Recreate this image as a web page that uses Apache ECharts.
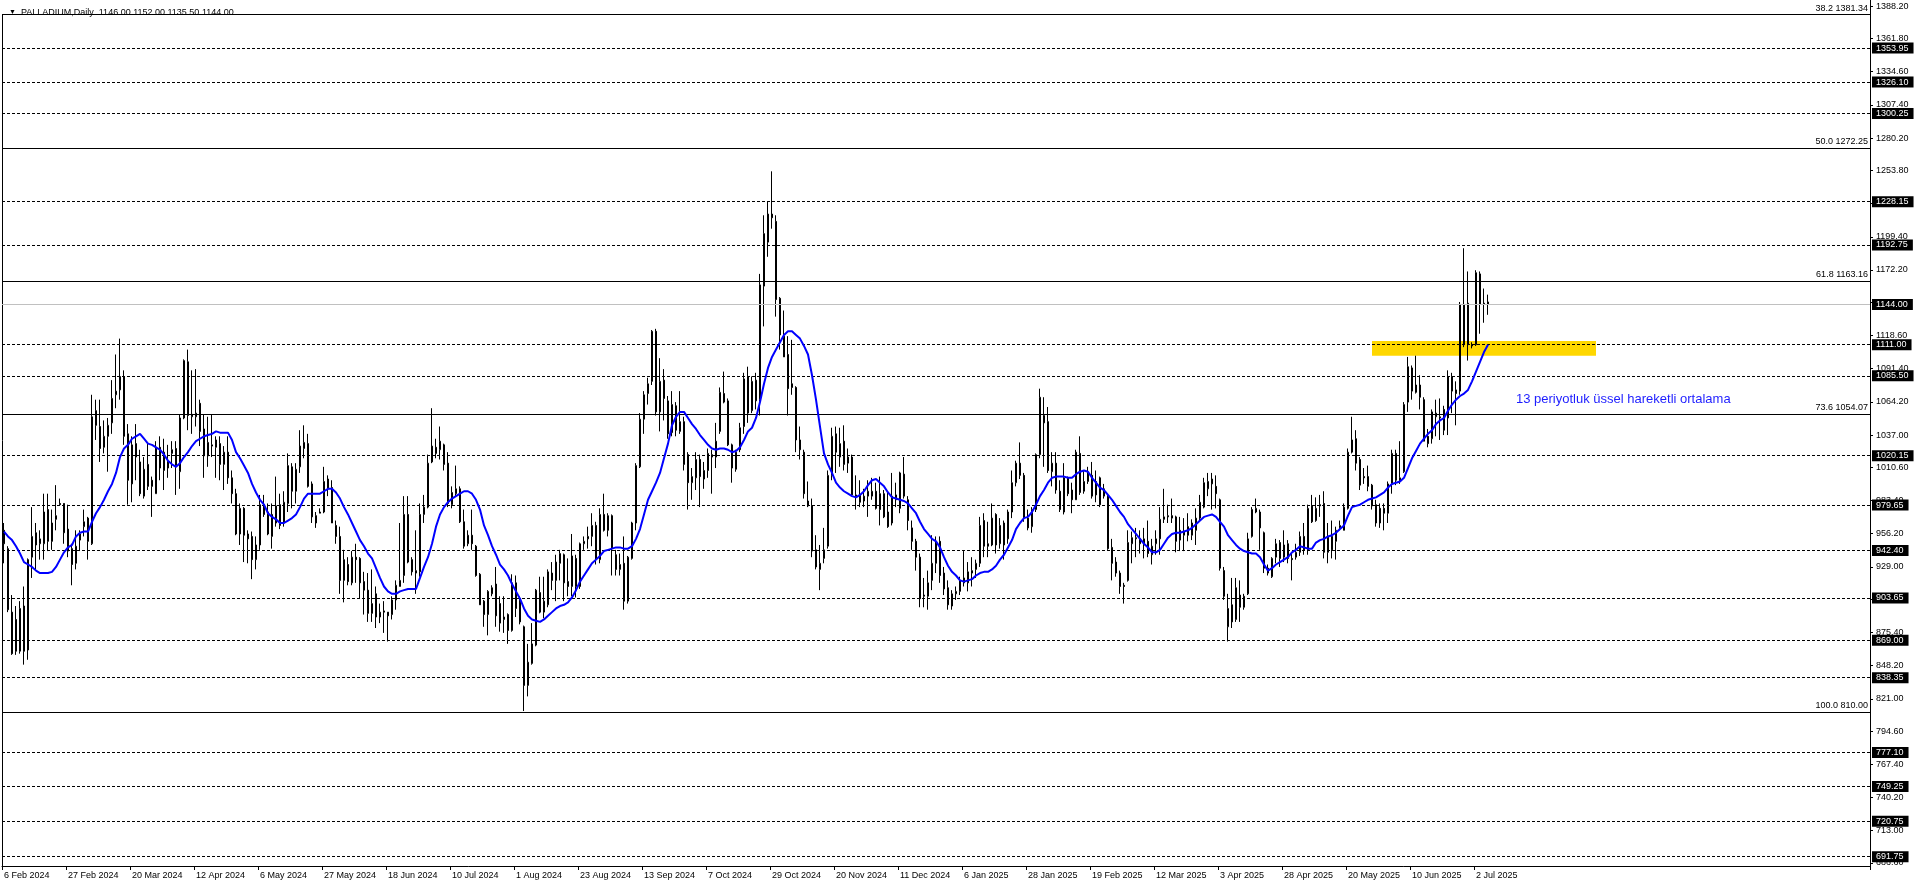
<!DOCTYPE html>
<html><head><meta charset="utf-8">
<script src="https://cdn.jsdelivr.net/npm/echarts@6/dist/echarts.min.js"></script>
<style>html,body{margin:0;padding:0;background:#fff}#c{width:1916px;height:888px}</style>
</head><body><div id="c"></div>
<script>
const symbolName = 'PALLADIUM,Daily';
const tickDates = ['6 Feb 2024','27 Feb 2024','20 Mar 2024','12 Apr 2024','6 May 2024','27 May 2024','18 Jun 2024','10 Jul 2024','1 Aug 2024','23 Aug 2024','13 Sep 2024','7 Oct 2024','29 Oct 2024','20 Nov 2024','11 Dec 2024','6 Jan 2025','28 Jan 2025','19 Feb 2025','12 Mar 2025','3 Apr 2025','28 Apr 2025','20 May 2025','10 Jun 2025','2 Jul 2025'];

const opens = [959,944,892,886,860,897,861,937,957,948,
948,976,965,968,981,981,960,944,932,951,
962,969,948,1057,1044,1027,1036,1047,1070,1074,
1085,1038,997,1030,1015,987,1013,1000,989,1027,
1008,1010,1022,1026,1007,1051,1097,1052,1052,1063,
1042,1020,1028,1027,1030,1013,1023,1002,989,956,
977,956,954,935,947,980,974,954,965,980,
965,981,1011,991,1011,1026,1030,997,971,973,
974,1001,994,963,954,918,931,916,937,936,
917,910,891,907,888,893,892,890,902,913,
922,972,935,924,925,972,978,1015,1027,1025,
1029,1014,980,989,993,966,948,955,946,923,
901,890,907,915,899,886,890,877,916,903,
880,832,850,865,908,892,898,924,918,932,
939,917,913,936,913,948,952,954,963,935,
972,959,971,939,927,932,901,936,965,1011,
1050,1071,1081,1122,1056,1082,1065,1039,1061,1040,
1048,1021,998,1002,1017,1001,1008,1019,1019,1040,
1071,1065,1029,1009,1025,1044,1085,1057,1065,1066,
1159,1195,1218,1212,1149,1118,1103,1079,1076,1033,
1023,983,979,943,927,936,946,1004,1038,1019,
1032,1014,1019,987,988,983,987,987,991,989,
989,974,965,988,977,1005,984,961,950,937,
905,905,918,932,950,924,912,897,907,909,
920,916,924,927,932,967,948,947,972,948,
965,952,974,998,1014,1004,969,962,976,1021,
1053,1048,1007,1014,991,974,1002,992,984,1022,
991,999,1004,999,1002,987,987,945,933,924,
914,918,948,952,952,947,950,939,948,952,
968,970,971,970,959,955,962,955,959,969,
978,993,997,995,984,926,880,898,886,906,
896,907,954,974,974,957,928,921,937,949,
937,948,936,937,941,954,943,979,967,980,
981,941,954,950,961,959,977,1023,1034,1017,
1003,1003,996,980,977,977,973,997,1022,1000,
1007,1064,1092,1072,1078,1066,1036,1034,1052,1051,
1058,1051,1085,1074,1073,1144,1145,1111,1111,1169,
1145,1146];

const closes = [948,894,858,860,895,860,935,954,947,952,
974,950,950,971,980,957,942,931,946,956,
966,950,1052,1045,1026,1036,1045,1067,1073,1085,
1036,1000,1029,1019,989,1009,995,995,1027,1010,
1023,1015,1025,1011,1051,1098,1053,1054,1055,1040,
1020,1031,1029,1033,1013,1023,1002,989,956,977,
955,952,935,947,980,972,956,972,979,963,
982,1012,991,1009,1028,1031,995,970,965,974,
999,993,965,954,918,935,917,937,935,916,
910,891,899,888,892,892,889,902,914,918,
972,933,925,926,972,978,1014,1028,1022,1032,
1013,981,990,993,966,946,955,948,922,898,
890,909,912,889,883,888,877,916,895,884,
832,851,866,910,892,901,925,918,933,940,
916,913,938,913,948,950,954,963,935,972,
959,971,944,927,931,901,937,965,1012,1050,
1070,1079,1122,1056,1081,1067,1038,1062,1041,1048,
1013,998,1003,1017,1003,1008,1022,1021,1032,1072,
1064,1029,1010,1023,1043,1083,1055,1081,1082,1160,
1202,1218,1215,1148,1119,1101,1075,1076,1033,1025,
989,979,942,929,932,943,1004,1036,1023,1030,
1013,1019,988,988,982,987,991,991,977,976,
970,962,987,984,1006,987,967,950,937,903,
906,916,932,950,922,911,898,907,909,918,
916,925,926,932,963,946,946,969,947,963,
947,974,998,1014,1004,969,961,976,1021,1068,
1047,1008,1014,992,976,1002,989,984,1023,990,
999,1006,987,988,980,993,944,932,924,913,
913,949,953,953,948,952,940,946,952,968,
970,971,969,950,951,958,955,965,969,982,
998,999,1001,989,928,905,895,884,912,896,
905,952,976,977,961,928,924,936,948,936,
947,936,935,941,954,943,977,966,977,979,
941,954,943,959,963,978,1023,1033,1014,996,
1002,995,979,965,965,973,997,1022,1000,1002,
1062,1093,1073,1078,1068,1032,1030,1056,1055,1052,
1041,1085,1073,1071,1144,1111,1111,1110,1170,1144,
1144,1144];

const lows = [932,892,857,857,858,849,853,920,927,935,
935,942,943,959,980,948,937,914,927,942,
954,935,947,1033,1015,1022,1007,1038,1059,1066,
1029,980,982,1000,987,985,992,970,989,1000,
992,1002,1010,988,993,1050,1041,1038,1044,1028,
1002,1011,1019,1002,1000,992,997,981,955,947,
933,932,919,927,943,970,955,944,962,960,
962,974,977,981,1006,1018,994,965,961,973,
973,987,965,948,907,900,914,914,916,903,
890,884,884,879,883,875,868,886,894,913,
916,932,922,907,921,965,977,1014,1018,1017,
1008,978,977,987,965,944,946,943,921,898,
880,873,905,880,876,875,866,876,888,882,
811,823,849,864,891,887,896,910,901,918,
901,905,905,904,911,943,944,946,931,932,
958,954,922,922,922,894,899,935,959,1010,
1038,1062,1078,1053,1040,1049,1034,1036,1036,1038,
1008,976,984,992,978,993,1002,989,1010,1038,
1063,1028,998,1007,1023,1038,1047,1055,1058,1053,
1126,1183,1206,1134,1107,1101,1053,1070,1023,1017,
985,978,937,927,910,932,944,1000,1006,1011,
1008,1006,987,976,978,978,970,984,976,963,
969,961,963,978,973,985,959,943,926,896,
896,894,910,924,916,906,894,894,902,906,
913,909,913,920,929,937,937,946,940,944,
935,948,969,995,1001,966,959,957,974,1018,
1011,1006,995,989,974,972,987,973,984,988,
989,997,985,982,978,985,943,918,921,907,
899,917,932,937,940,936,937,931,939,939,
965,965,965,941,942,942,950,951,947,966,
977,987,976,977,926,902,868,879,884,884,
894,906,953,973,943,924,922,920,932,929,
933,932,918,935,938,939,939,965,966,970,
936,932,936,935,959,959,976,1022,1008,992,
997,991,976,962,961,959,965,989,996,997,
1006,1056,1066,1071,1058,1032,1027,1030,1036,1033,
1037,1037,1055,1045,1070,1109,1098,1108,1110,1120,
1129,1135.5];

const highs = [965,946,906,897,901,913,936,978,965,959,
989,989,976,996,985,981,980,948,959,959,
976,970,1070,1066,1066,1049,1051,1082,1103,1116,
1090,1046,1036,1046,1025,1019,1030,1003,1032,1036,
1034,1029,1032,1032,1054,1099,1107,1090,1091,1066,
1054,1052,1054,1036,1036,1028,1036,1008,993,981,
978,959,958,954,988,988,981,981,1003,989,
991,1022,1014,1014,1041,1045,1038,999,974,977,
1011,1004,1000,967,962,943,937,942,948,937,
925,924,927,913,899,901,892,905,918,965,
987,987,937,959,981,988,1021,1059,1034,1044,
1030,1023,995,1012,995,976,959,976,947,924,
902,910,914,929,905,905,891,923,922,905,
881,866,883,911,921,921,927,933,939,943,
940,936,956,939,949,954,962,973,966,977,
989,973,972,943,940,954,938,966,1014,1055,
1073,1084,1123,1124,1100,1091,1069,1073,1064,1073,
1052,1023,1010,1023,1021,1015,1026,1025,1047,1076,
1089,1067,1030,1025,1047,1088,1093,1085,1088,1169,
1217,1228,1253,1217,1150,1139,1118,1115,1077,1044,
1025,999,985,955,947,961,1008,1043,1044,1043,
1045,1026,1021,1004,1000,993,1000,1002,998,1003,
992,991,1006,998,1007,1019,987,967,952,940,
920,926,955,954,954,929,918,910,913,921,
942,933,937,935,970,973,966,981,973,969,
967,976,1008,1016,1031,1006,976,978,1022,1075,
1068,1060,1023,1023,1000,1014,1003,998,1025,1036,
1008,1011,1015,1008,1003,997,989,952,937,926,
916,959,958,961,959,961,967,952,959,978,
993,980,985,971,970,969,973,968,977,988,
1002,1006,1006,1004,985,929,907,920,920,918,
907,957,978,985,976,958,931,937,952,951,
959,951,940,948,958,965,980,988,986,988,
991,965,967,962,967,981,1026,1052,1041,1019,
1010,1012,997,984,981,981,999,1025,1025,1032,
1064,1101,1094,1102,1086,1068,1042,1058,1066,1067,
1061,1090,1088,1081,1146,1190,1171,1113,1172,1171,
1157,1152];

const ema13 = [958,954,951,946,940,933,931,929,926,924,
924,924,925,929,935,941,945,947,954,957,
958,958,966,973,978,984,991,997,1006,1019,
1026,1029,1034,1036,1038,1034,1030,1029,1027,1025,
1021,1016,1013,1011,1014,1019,1023,1028,1032,1034,
1036,1037,1038,1040,1039,1039,1039,1033,1023,1018,
1012,1006,997,990,984,980,973,970,968,965,
965,967,969,972,978,985,989,989,989,989,
991,993,993,990,985,978,972,965,958,951,
946,940,936,928,920,913,909,907,907,909,
910,911,911,911,920,929,937,948,962,972,
978,982,985,987,989,991,991,989,984,976,
963,955,946,939,931,927,922,915,909,903,
895,889,886,885,884,886,889,892,895,897,
898,900,904,910,917,922,927,932,935,938,
942,943,944,945,945,944,944,946,952,960,
972,984,991,998,1006,1018,1030,1045,1052,1056,
1056,1051,1046,1042,1037,1033,1029,1026,1025,1026,
1026,1025,1023,1024,1027,1033,1040,1043,1051,1064,
1079,1092,1101,1107,1113,1119,1122,1122,1119,1116,
1110,1103,1086,1066,1044,1022,1013,1006,998,994,
991,989,987,986,988,991,996,1000,1001,998,
995,990,986,985,984,983,981,977,973,966,
960,956,952,950,945,937,930,925,922,918,
917,918,919,922,924,925,925,927,930,935,
939,945,951,960,965,969,970,974,980,987,
992,998,1002,1003,1003,1003,1002,1002,1005,1007,
1008,1007,1002,998,994,992,988,984,979,974,
970,964,960,956,952,948,945,941,941,943,
948,953,956,957,957,958,959,961,964,967,
970,971,972,970,966,962,955,951,947,944,
942,941,940,940,937,931,926,928,931,933,
935,937,941,943,946,945,944,944,949,951,
952,954,955,957,960,963,971,978,979,980,
982,984,985,986,988,990,994,997,998,999,
1002,1010,1018,1024,1030,1034,1038,1041,1046,1049,
1051,1057,1062,1066,1069,1071,1074,1081,1089,1097,
1105,1111];

const priceTicks = [686.60,713.00,740.20,767.40,794.60,821.00,848.20,875.40,902.60,929.00,956.20,983.40,1010.60,1037.00,1064.20,1091.40,1118.60,1145.80,1172.20,1199.40,1226.60,1253.80,1280.20,1307.40,1334.60,1361.80,1388.20];
const levelPrices = [1353.95,1326.10,1300.25,1228.15,1192.75,1111.00,1085.50,1020.15,979.65,942.40,903.65,869.00,838.35,777.10,749.25,720.75,691.75];
const currentPrice = 1144.00;
const fibPercents = ['38.2','50.0','61.8','73.6','100.0'];
const fibPrices = [1381.34,1272.25,1163.16,1054.07,810.00];
const zonePrices = [1114, 1102];
const emaNote = '13 periyotluk üssel hareketli ortalama';

const MONTHS=['Jan','Feb','Mar','Apr','May','Jun','Jul','Aug','Sep','Oct','Nov','Dec'];
const DAY=86400000;
function parseD(s){const p=s.split(' ');return Date.UTC(+p[2],MONTHS.indexOf(p[1]),+p[0]);}
function fmt(t){const d=new Date(t);return d.getUTCDate()+' '+MONTHS[d.getUTCMonth()]+' '+d.getUTCFullYear();}
function isWd(t){const w=new Date(t).getUTCDay();return w!==0&&w!==6;}
const nBars = closes.length;
const TOTAL_SLOTS = 467;
const categories=[];
for(let k=0;k<tickDates.length;k++){
  let t=parseD(tickDates[k]); let n=0;
  while(n<16 && categories.length<nBars){ if(isWd(t)){categories.push(fmt(t));n++;} t+=DAY; }
}
{ let t=parseD(categories[categories.length-1])+DAY;
  while(categories.length<TOTAL_SLOTS){ if(isWd(t)) categories.push(fmt(t)); t+=DAY; } }

const candleData = closes.map((c,i)=>[opens[i],c,lows[i],highs[i]]);
const FONT = "'Liberation Sans',Arial,sans-serif";
const FS = 9;
const last = nBars-1;
const titleText = '{t|▼}  ' + symbolName + '  ' + [opens[last],highs[last],lows[last],closes[last]].map(v=>v.toFixed(2)).join(' ');
const showTick = (i)=>i%16===0&&i<nBars;

const boxLabel = (txt)=>({show:true,position:'end',distance:2,formatter:txt,color:'#fff',backgroundColor:'#000',
  fontSize:FS,fontFamily:FONT,lineHeight:10,padding:[1,5,0,4]});
const markLines = [];
levelPrices.forEach(v=>markLines.push({yAxis:v,lineStyle:{color:'#000',width:1,type:[3,2]},label:boxLabel(v.toFixed(2))}));
markLines.push({yAxis:currentPrice,lineStyle:{color:'#c0c0c0',width:1,type:'solid'},label:boxLabel(currentPrice.toFixed(2))});
fibPrices.forEach((v,i)=>markLines.push({yAxis:v,lineStyle:{color:'#000',width:1,type:'solid'},
  label:{show:true,position:'insideEndTop',distance:2,formatter:fibPercents[i]+' '+v.toFixed(2),color:'#000',
  fontSize:FS,fontFamily:FONT}}));

const chart = echarts.init(document.getElementById('c'),null,{renderer:'canvas'});
chart.setOption({
  animation:false,
  backgroundColor:'#fff',
  title:{text:titleText,left:4,top:3,textStyle:{fontSize:FS,fontWeight:'normal',color:'#000',fontFamily:FONT,
    rich:{t:{fontSize:7,color:'#000'}}}},
  grid:{left:2,right:46,top:0,bottom:22,containLabel:false},
  xAxis:{type:'category',data:categories,boundaryGap:true,
    axisLine:{show:true,lineStyle:{color:'#000',width:1}},
    axisTick:{show:true,length:4,interval:showTick,lineStyle:{color:'#000'}},
    axisLabel:{show:true,interval:showTick,align:'left',margin:5,fontSize:FS,color:'#000',fontFamily:FONT,
      formatter:(v,i)=>i<nBars?v:''},
    splitLine:{show:false}},
  yAxis:{type:'value',position:'right',min:684.1,max:1393.3,scale:true,
    axisLine:{show:true,lineStyle:{color:'#000',width:1}},
    axisTick:{show:true,length:3,customValues:priceTicks,lineStyle:{color:'#000'}},
    axisLabel:{show:true,customValues:priceTicks,formatter:(v)=>(+v).toFixed(2),margin:6,fontSize:FS,color:'#000',fontFamily:FONT,showMinLabel:true,showMaxLabel:true},
    splitLine:{show:false}},
  graphic:[{type:'line',shape:{x1:2.5,y1:15,x2:2.5,y2:866},style:{stroke:'#000',lineWidth:1},silent:true}],
  series:[
    {type:'candlestick',data:candleData,barWidth:2,
     itemStyle:{color:'#fff',color0:'#000',borderColor:'#000',borderColor0:'#000',borderWidth:1},
     markLine:{silent:true,symbol:['none','none'],animation:false,data:markLines},
     markArea:{silent:true,itemStyle:{color:'#ffd700',opacity:1},
       data:[[{xAxis:categories[342],yAxis:zonePrices[0]},{xAxis:categories[398],yAxis:zonePrices[1]}]]}
    },
    {type:'line',data:ema13,symbol:'none',smooth:false,z:5,
     lineStyle:{color:'#0000ff',width:2},
     markPoint:{silent:true,symbol:'circle',symbolSize:0,
       data:[{coord:[categories[378],1066.6],label:{show:true,position:'right',distance:0,formatter:emaNote,color:'#1e1eff',fontSize:13,fontFamily:FONT}}]}
    }
  ]
});
</script></body></html>
